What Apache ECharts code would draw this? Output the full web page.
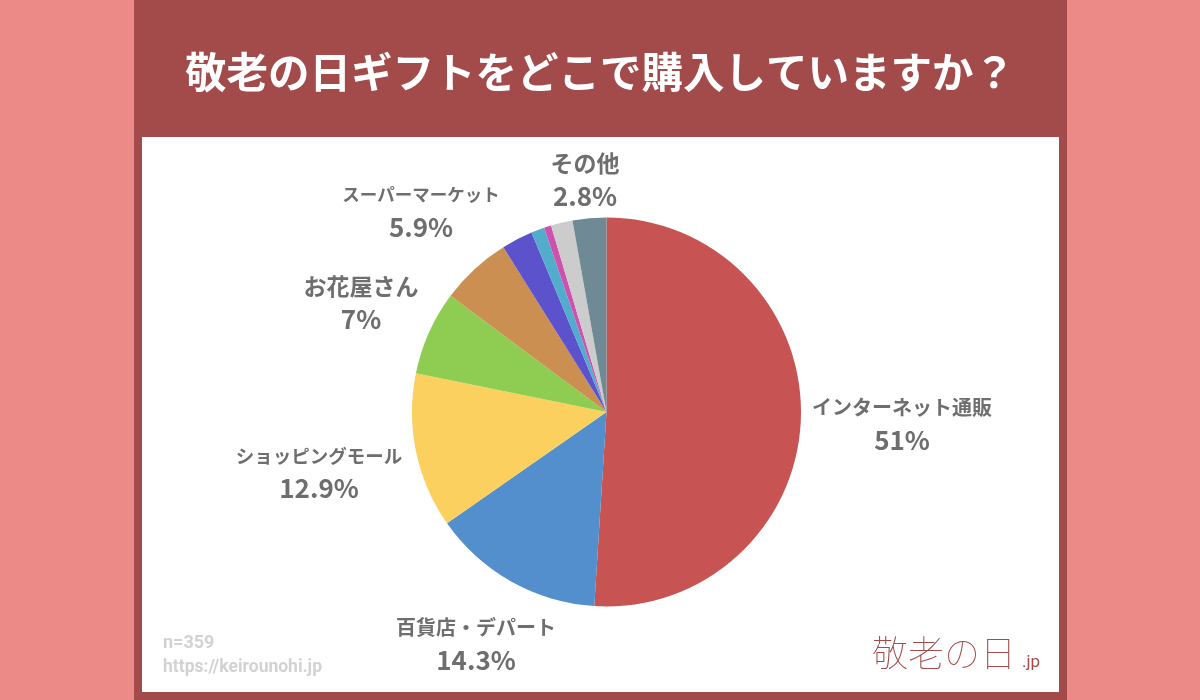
<!DOCTYPE html>
<html>
<head>
<meta charset="utf-8">
<style>
html, body { margin: 0; padding: 0; background: #EC8A88; }
#container { width: 1200px; height: 700px; }
</style>
<script src="https://cdn.jsdelivr.net/npm/echarts@6/dist/echarts.min.js"></script>
</head>
<body>
<div id="container"></div>
<script>
// clockwise from 12 o'clock, unnamed slices have no label in the picture
var categories = ['インターネット通販', '百貨店・デパート', 'ショッピングモール', 'お花屋さん', 'スーパーマーケット', '', ' ', '  ', '   ', 'その他'];
var values = [51, 14.3, 12.9, 7, 5.9, 2.6, 1.1, 0.6, 1.8, 2.8];
var colors = ['#C85353', '#528FCC', '#FBD05F', '#8FCC52', '#CC8F52', '#5C52CC', '#52ADCC', '#CC52AD', '#CCCCCC', '#6F8A94'];

var font = '"Noto Sans CJK JP"';
// the original uses a narrow kana, so katakana names get a smaller size to fit the same width
var nameSize = { 0: 20, 1: 20, 2: 18.5, 3: 23, 4: 17.5, 9: 23 };
var labelXY = {
	0: [902, 424],
	1: [476, 644],
	2: [319, 472],
	3: [361, 303],
	4: [421, 211],
	9: [585, 180]
};

var dom = document.getElementById('container');
var myChart = echarts.init(dom);

var pieData = categories.map(function (name, i) {
	return {
		name: name,
		value: values[i],
		itemStyle: { color: colors[i] },
		label: {
			show: name.trim() !== '',
			rich: {
				n: { fontFamily: font, fontWeight: 'bold', color: '#6E6E6E', fontSize: nameSize[i] || 20, lineHeight: 33 },
				v: { fontFamily: font, fontWeight: 'bold', color: '#6E6E6E', fontSize: 26, lineHeight: 33 }
			}
		}
	};
});

var option = {
	animation: false,
	backgroundColor: '#EC8A88',
	title: [{
		text: '敬老の日ギフトをどこで購入していますか？',
		left: 595,
		top: 67,
		textAlign: 'center',
		textVerticalAlign: 'middle',
		textStyle: { color: '#fff', fontFamily: font, fontWeight: 'bold', fontSize: 41.5 }
	}, {
		text: 'n=359',
		left: 158,
		top: 629,
		textStyle: { color: '#d2d2d2', fontFamily: 'Roboto', fontWeight: 'bold', fontSize: 18 }
	}, {
		text: 'https://keirounohi.jp',
		left: 158,
		top: 654,
		textStyle: { color: '#d2d2d2', fontFamily: 'Roboto', fontWeight: 'bold', fontSize: 17.5 }
	}, {
		text: '敬老の日',
		left: 867,
		top: 630,
		textStyle: { color: '#A34A4A', fontFamily: font, fontWeight: 'lighter', fontSize: 36 }
	}, {
		text: '.jp',
		left: 1017,
		top: 649,
		textStyle: { color: '#A34A4A', fontFamily: 'Roboto', fontWeight: 'normal', fontSize: 17 }
	}],
	graphic: [{
		type: 'rect',
		z: -2,
		shape: { x: 134, y: 0, width: 933, height: 700 },
		style: { fill: '#A34A4A' }
	}, {
		type: 'rect',
		z: -1,
		shape: { x: 142, y: 137, width: 917, height: 555 },
		style: { fill: '#fff' }
	}],
	series: [{
		type: 'pie',
		center: [606.5, 412],
		radius: [0, 194.5],
		startAngle: 90,
		clockwise: true,
		silent: true,
		avoidLabelOverlap: false,
		label: {
			position: 'outside',
			formatter: function (p) {
				return '{n|' + p.name + '}\n{v|' + p.value + '%}';
			},
			align: 'center'
		},
		labelLine: { show: false },
		labelLayout: function (params) {
			var p = labelXY[params.dataIndex];
			if (!p) return {};
			return { x: p[0], y: p[1], align: 'center', verticalAlign: 'middle' };
		},
		data: pieData
	}]
};

myChart.setOption(option, true);
</script>
</body>
</html>
